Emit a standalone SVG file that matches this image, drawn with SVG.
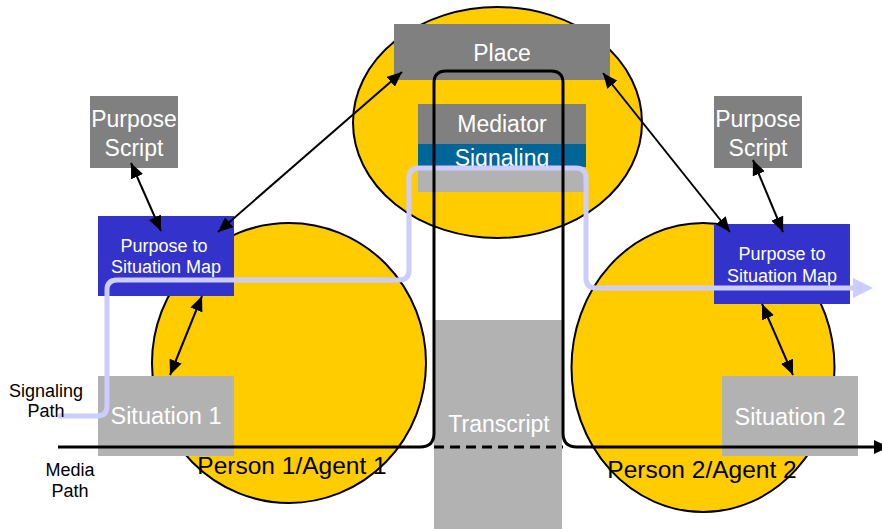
<svg xmlns="http://www.w3.org/2000/svg" width="882" height="529" viewBox="0 0 882 529">
<style>
  .blob { fill: #FFCC00; stroke: #000; stroke-width: 2; }
  .dark { fill: #808080; }
  .light { fill: #B2B2B2; }
  .blue { fill: #3333CC; }
  .teal { fill: #006699; }
  text { font-family: "Liberation Sans", Arial, sans-serif; text-anchor: middle; }
  .wl { fill: #FFFFFF; font-size: 23px; }
  .ws { fill: #FFFFFF; font-size: 18px; }
  .bl { fill: #000000; font-size: 24.5px; }
  .bs { fill: #000000; font-size: 18px; }
  .arr { stroke: #000; stroke-width: 2; fill: none; marker-start: url(#ah); marker-end: url(#ah); }
  .sig { stroke: #CCCCFF; stroke-width: 5; fill: none; }
  .media { stroke: #000; stroke-width: 3; fill: none; }
</style>
<defs>
  <marker id="ah" viewBox="0 0 15 13" refX="15" refY="6.5" markerWidth="15" markerHeight="13" markerUnits="userSpaceOnUse" orient="auto-start-reverse">
    <path d="M0,0 L15,6.5 L0,13 z" fill="#000"/>
  </marker>
</defs>
<rect x="0" y="0" width="882" height="529" fill="#FFFFFF"/>

<g id="place-ellipse"><ellipse class="blob" cx="497.5" cy="122.5" rx="144.5" ry="115.5"/></g>
<g id="person1"><ellipse class="blob" cx="289" cy="363" rx="137" ry="140"/></g>
<g id="person2"><ellipse class="blob" cx="703" cy="367.5" rx="131.5" ry="144.5"/></g>

<g id="place"><rect class="dark" x="394" y="24" width="216" height="56"/><text class="wl" x="502" y="61">Place</text></g>
<g id="mediator">
  <rect class="dark" x="418" y="104" width="168" height="40"/>
  <text class="wl" x="502" y="132">Mediator</text>
  <rect class="teal" x="418" y="144" width="168" height="23"/>
  <text class="wl" x="502" y="166">Signaling</text>
  <rect class="light" x="418" y="167" width="168" height="25"/>
</g>

<g id="purpose-script-1"><rect class="dark" x="90" y="96" width="88" height="72"/><text class="wl" x="134" y="127">Purpose</text><text class="wl" x="134" y="156">Script</text></g>
<g id="purpose-script-2"><rect class="dark" x="714" y="96" width="88" height="72"/><text class="wl" x="758" y="127">Purpose</text><text class="wl" x="758" y="156">Script</text></g>

<g id="map-1"><rect class="blue" x="98" y="216" width="136" height="80"/><text class="ws" x="164" y="252">Purpose to</text><text class="ws" x="166" y="273">Situation Map</text></g>
<g id="map-2"><rect class="blue" x="714" y="224" width="136" height="80"/><text class="ws" x="782" y="260">Purpose to</text><text class="ws" x="782" y="282">Situation Map</text></g>

<g id="situation-1"><rect class="light" x="98" y="376" width="136" height="80"/><text class="wl" x="166" y="424" style="font-size:23.5px">Situation 1</text></g>
<g id="situation-2"><rect class="light" x="722" y="376" width="136" height="80"/><text class="wl" x="790" y="425" style="font-size:23.5px">Situation 2</text></g>

<g id="transcript"><rect class="light" x="434" y="320" width="128" height="209"/><text class="wl" x="499" y="432">Transcript</text></g>

<g id="connectors">
  <path class="sig" d="M58,416 H97 Q107,416 107,406 V290 Q107,280 117,280 H399 Q409,280 409,270 V178 Q409,168 419,168 H576 Q586,168 586,178 V278 Q586,288 596,288 H856"/>
  <polygon points="853,278 873,288 853,298" fill="#CCCCFF"/>
  <path class="media" d="M58,447 H420 Q434,447 434,433 V83 Q434,71 446,71 H551 Q563,71 563,83 V433 Q563,447 577,447 H876"/>
  <polygon points="874,440 889,447 874,454" fill="#000"/>
  <line x1="434" y1="447" x2="563" y2="447" stroke="#000" stroke-width="3" stroke-dasharray="10,6"/>
  <line class="arr" x1="131" y1="163" x2="161" y2="231"/>
  <line class="arr" x1="402" y1="72" x2="218" y2="232"/>
  <line class="arr" x1="202" y1="296" x2="170" y2="375"/>
  <line class="arr" x1="603" y1="73" x2="730" y2="232"/>
  <line class="arr" x1="753" y1="160" x2="783" y2="232"/>
  <line class="arr" x1="762" y1="304" x2="793" y2="375"/>
</g>

<g id="labels">
  <text class="bl" x="292" y="474">Person 1/Agent 1</text>
  <text class="bl" x="702" y="478">Person 2/Agent 2</text>
  <text class="bs" x="46" y="397">Signaling</text>
  <text class="bs" x="46" y="417">Path</text>
  <text class="bs" x="70" y="476">Media</text>
  <text class="bs" x="70" y="497">Path</text>
</g>
</svg>
